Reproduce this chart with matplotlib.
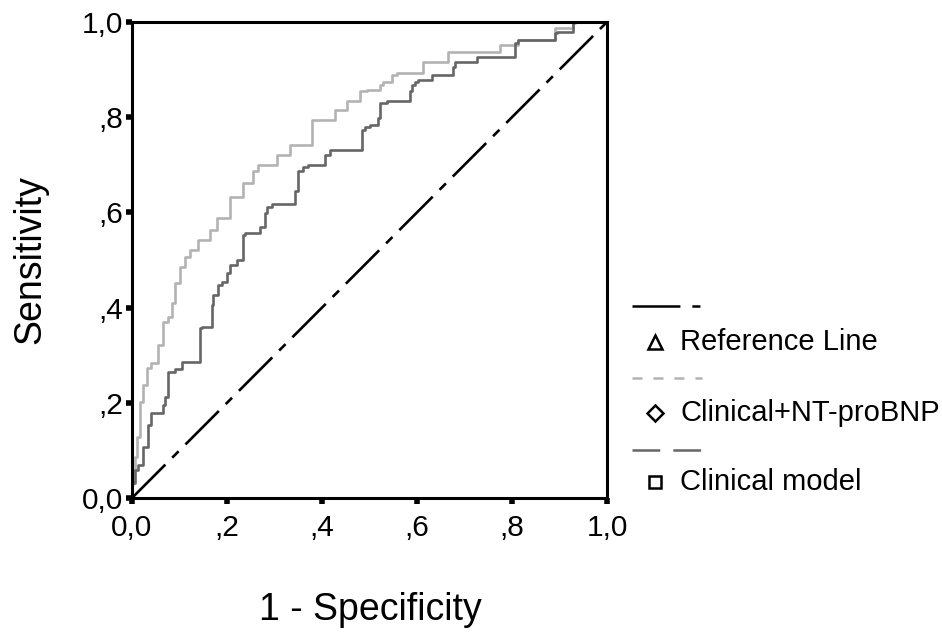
import matplotlib
matplotlib.use("Agg")
import matplotlib.pyplot as plt
from matplotlib.lines import Line2D

plt.rcParams["font.family"] = ["Liberation Sans", "DejaVu Sans"]
plt.rcParams["lines.scale_dashes"] = False

# ROC curve (1 - specificity, sensitivity)
fpr_combined = [0.0, 0.003, 0.006, 0.010, 0.017, 0.024, 0.031, 0.041, 0.055, 0.066,
                0.076, 0.084, 0.091, 0.101, 0.112, 0.122, 0.139, 0.143, 0.164, 0.178,
                0.185, 0.206, 0.206, 0.234, 0.255, 0.266, 0.305, 0.305, 0.333, 0.333,
                0.378, 0.378, 0.427, 0.452, 0.480, 0.494, 0.522, 0.528, 0.547, 0.557,
                0.613, 0.617, 0.666, 0.669, 0.775, 0.775, 0.813, 0.813, 0.891, 0.891,
                0.929, 0.933, 0.950, 1.0]
tpr_combined = [0.0, 0.030, 0.059, 0.087, 0.129, 0.202, 0.237, 0.273, 0.283, 0.321,
                0.370, 0.381, 0.410, 0.452, 0.486, 0.507, 0.521, 0.542, 0.542, 0.563,
                0.588, 0.588, 0.626, 0.632, 0.662, 0.686, 0.700, 0.721, 0.721, 0.742,
                0.742, 0.780, 0.794, 0.815, 0.833, 0.854, 0.857, 0.868, 0.875, 0.889,
                0.893, 0.917, 0.917, 0.937, 0.937, 0.948, 0.952, 0.962, 0.962, 0.987,
                0.987, 0.997, 1.0, 1.0]

fpr_clinical = [0.0, 0.006, 0.013, 0.024, 0.034, 0.041, 0.045, 0.066, 0.069, 0.076,
                0.076, 0.091, 0.105, 0.105, 0.143, 0.143, 0.147, 0.168, 0.171, 0.181,
                0.189, 0.199, 0.206, 0.220, 0.234, 0.238, 0.269, 0.280, 0.284, 0.294,
                0.343, 0.350, 0.360, 0.371, 0.406, 0.417, 0.427, 0.484, 0.491, 0.501,
                0.518, 0.522, 0.536, 0.585, 0.589, 0.596, 0.602, 0.631, 0.634, 0.676,
                0.680, 0.726, 0.729, 0.806, 0.806, 0.813, 0.817, 0.891, 0.894, 0.929,
                0.929, 1.0]
tpr_clinical = [0.0, 0.031, 0.059, 0.069, 0.108, 0.153, 0.178, 0.178, 0.195, 0.212,
                0.255, 0.265, 0.271, 0.286, 0.286, 0.325, 0.357, 0.360, 0.405, 0.426,
                0.447, 0.454, 0.472, 0.489, 0.500, 0.553, 0.557, 0.570, 0.599, 0.612,
                0.618, 0.645, 0.686, 0.696, 0.700, 0.721, 0.731, 0.731, 0.773, 0.780,
                0.784, 0.798, 0.830, 0.833, 0.854, 0.868, 0.875, 0.878, 0.889, 0.889,
                0.906, 0.917, 0.927, 0.927, 0.941, 0.956, 0.962, 0.962, 0.976, 0.979,
                1.0, 1.0]

ref_line = [0.0, 1.0]

tick_values = [0.0, 0.2, 0.4, 0.6, 0.8, 1.0]
tick_labels = ["0,0", ",2", ",4", ",6", ",8", "1,0"]
legend_labels = ["Reference Line", "Clinical+NT-proBNP", "Clinical model"]

W, H = 942, 638
LIGHT = "#b3b3b3"
DARK = "#666666"

fig = plt.figure(figsize=(W / 100, H / 100), dpi=100)
ax = fig.add_axes([132 / W, 1 - 498 / H, 475 / W, 476 / H])

ax.plot(fpr_combined, tpr_combined, color=LIGHT, lw=1.9, drawstyle="steps-pre", clip_on=False)
ax.plot(fpr_clinical, tpr_clinical, color=DARK, lw=1.9, drawstyle="steps-pre", clip_on=False)
ax.plot(ref_line, ref_line, color="black", lw=1.9, dashes=(34, 7, 6.5, 7))

ax.set_xlim(0, 1)
ax.set_ylim(0, 1)
ax.set_xticks(tick_values)
ax.set_xticklabels(tick_labels)
ax.set_yticks(tick_values)
ax.set_yticklabels(tick_labels)
ax.tick_params(direction="out", length=4.5, width=4, color="black", labelsize=21.5)
ax.tick_params(axis="x", pad=7)
ax.tick_params(axis="y", pad=2)
for sp in ax.spines.values():
    sp.set_linewidth(2.2)
    sp.set_color("black")

fig.text(370 / W, 1 - 610 / H, "1 - Specificity", fontsize=27, ha="center", va="center")
fig.text(30 / W, 1 - 260 / H, "Sensitivity", fontsize=27, ha="center", va="center", rotation=90)

# legend drawn by hand: line sample above, marker + label below
line_rows = [306, 378, 450]
text_rows = [342, 413, 482]
line_styles = [
    dict(color="black", dashes=(34.5, 8.6, 5.8, 8.6)),
    dict(color=LIGHT, dashes=(7.2, 7.9)),
    dict(color=DARK, dashes=(20, 9.4)),
]
markers = ["^", "D", "s"]
marker_sizes = [10, 8, 9]
for ly, ty, style, mk, ms, lab in zip(line_rows, text_rows, line_styles, markers, marker_sizes, legend_labels):
    fig.add_artist(Line2D([632 / W, 702 / W], [1 - ly / H, 1 - ly / H], lw=1.8,
                          transform=fig.transFigure, **style))
    fig.add_artist(Line2D([655 / W], [1 - ty / H], marker=mk, ms=ms, mfc="white", mec="black",
                          mew=1.8, ls="none", transform=fig.transFigure))
    fig.text(680 / W, 1 - ty / H, lab, fontsize=21, ha="left", va="center")

fig.savefig("out.png", dpi=100)
